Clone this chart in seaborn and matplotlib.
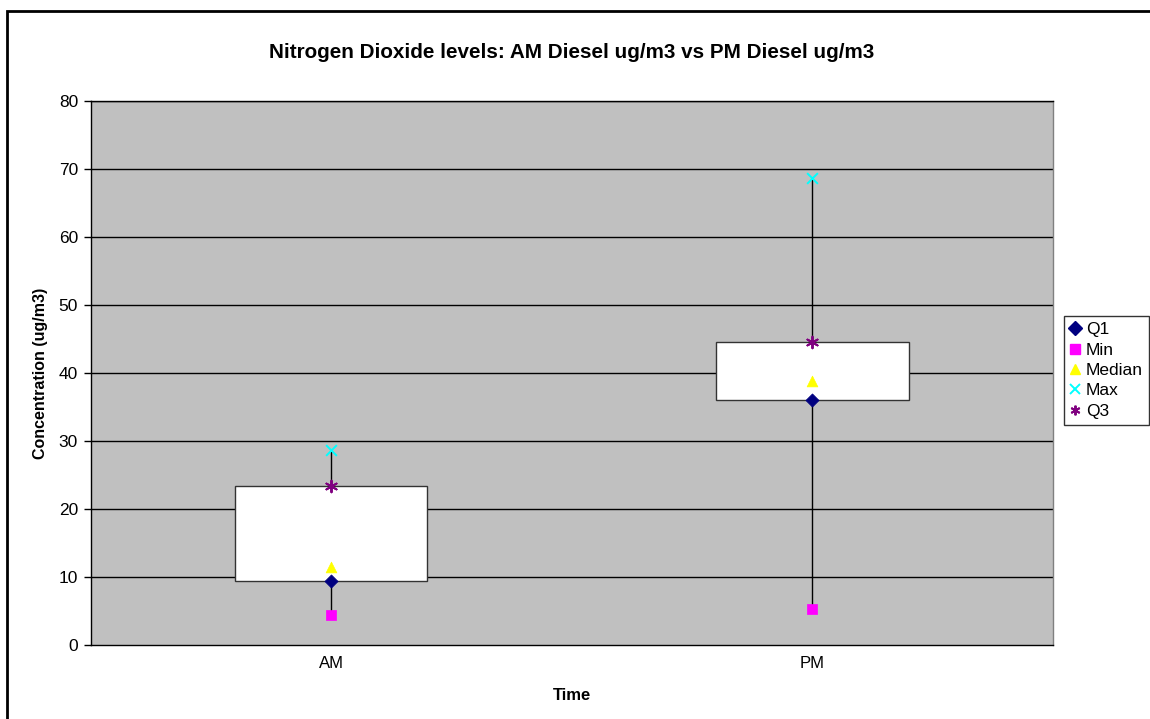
import matplotlib
matplotlib.use("Agg")
import matplotlib.pyplot as plt
from matplotlib.patches import Rectangle
from matplotlib.lines import Line2D
import seaborn as sns
import pandas as pd
import numpy as np

# Summary statistics for NO2 diesel readings (ug/m3)
times = ["AM", "PM"]
q1 = [9.4, 36.0]
mins = [4.4, 5.3]
medians = [11.5, 38.8]
maxs = [28.7, 68.7]
q3 = [23.4, 44.5]

y_ticks = [0, 10, 20, 30, 40, 50, 60, 70, 80]

sns.set_style("white")
plt.rcParams["font.family"] = ["Liberation Sans", "DejaVu Sans"]
for key in ("text.color", "axes.labelcolor", "xtick.color", "ytick.color"):
    plt.rcParams[key] = "black"

fig = plt.figure(figsize=(11.5, 7.19), dpi=100)
ax = fig.add_axes([0.0787, 0.1029, 0.9157 - 0.0787, 0.8595 - 0.1029])
ax.set_facecolor("#C0C0C0")

x = np.arange(len(times))

# grid lines behind everything
for t in y_ticks[1:]:
    ax.axhline(t, color="black", lw=1.0, zorder=0.5)

# whiskers from min to max
ax.vlines(x, mins, maxs, color="black", lw=1.0, zorder=1)

# boxes Q1..Q3
heights = [b - a for a, b in zip(q1, q3)]
ax.bar(x, heights, bottom=q1, width=0.4, color="white",
       edgecolor="#333333", linewidth=1.0, zorder=2)

series = [
    ("Q1", q1, "D", "#000080", 45),
    ("Min", mins, "s", "#FF00FF", 50),
    ("Median", medians, "^", "#FFFF00", 60),
    ("Max", maxs, "x", "#00FFFF", 60),
    ("Q3", q3, (6, 2, 0), "#800080", 70),
]

handles = []
for name, vals, mk, col, size in series:
    df = pd.DataFrame({"x": x, "y": vals})
    if mk == "x" or isinstance(mk, tuple):
        sns.scatterplot(data=df, x="x", y="y", ax=ax, marker=mk, color=col,
                        s=size, linewidth=1.4, zorder=3, legend=False)
        h = Line2D([], [], linestyle="none", marker=mk, color=col,
                   markersize=7, markeredgewidth=1.4)
    else:
        sns.scatterplot(data=df, x="x", y="y", ax=ax, marker=mk, color=col,
                        s=size, edgecolor=col, linewidth=0.5, zorder=3,
                        legend=False)
        h = Line2D([], [], linestyle="none", marker=mk, color=col,
                   markeredgecolor=col, markersize=7)
    handles.append((h, name))

ax.set_xlim(-0.5, 1.5)
ax.set_ylim(0, 80)
ax.set_yticks(y_ticks)
ax.set_xticks(x)
ax.set_xticklabels(times)
ax.set_xticks([-0.5, 0.5, 1.5], minor=True)
ax.tick_params(axis="x", which="major", length=0, labelsize=12, pad=8)
ax.tick_params(axis="x", which="minor", length=5, width=1, color="black",
               direction="out")
ax.tick_params(axis="y", length=5, width=1, color="black", direction="out",
               labelsize=12.5, pad=4, left=True)

for side in ("left", "bottom", "top"):
    ax.spines[side].set_color("black")
    ax.spines[side].set_linewidth(1.0)
ax.spines["right"].set_color("#808080")
ax.spines["right"].set_linewidth(1.0)

ax.set_xlabel("Time", fontsize=12, fontweight="bold", labelpad=12)
ax.set_ylabel("Concentration (ug/m3)", fontsize=11.5, fontweight="bold",
              labelpad=8)
ax.set_title("Nitrogen Dioxide levels: AM Diesel ug/m3 vs PM Diesel ug/m3",
             fontsize=14.9, fontweight="bold", pad=31)

leg = fig.legend([h for h, _ in handles], [n for _, n in handles],
                 loc="upper left", bbox_to_anchor=(1064 / 1150, 1 - 316 / 719),
                 frameon=True, fancybox=False, fontsize=12.5,
                 handlelength=0.6, handletextpad=0.3, borderpad=0.35,
                 labelspacing=0.3, borderaxespad=0)
leg.get_frame().set_edgecolor("black")
leg.get_frame().set_linewidth(1.0)

# outer chart border
fig.patches.append(Rectangle((7 / 1150, -0.1), 1.2, 1 - 11 / 719 + 0.1,
                             transform=fig.transFigure, fill=False,
                             edgecolor="black", linewidth=2.0, clip_on=False))

fig.savefig("out.png", dpi=100)
